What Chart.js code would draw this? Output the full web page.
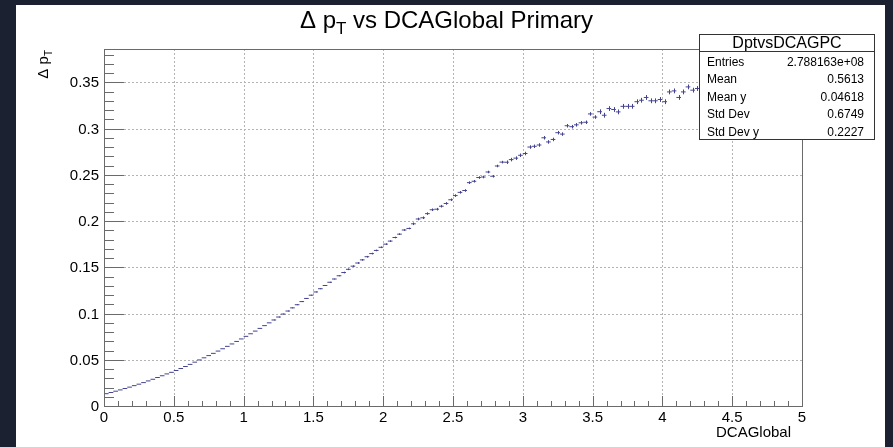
<!DOCTYPE html>
<html>
<head>
<meta charset="utf-8">
<script src="https://cdn.jsdelivr.net/npm/chart.js@4.4.1/dist/chart.umd.min.js"></script>
<style>
  html, body { margin: 0; padding: 0; background: #1b2130; }
</style>
</head>
<body>
<canvas id="myProfile" width="893" height="447"></canvas>
<script>
// histogram binning (TProfile: 150 bins from 0 to 5)
const nBins = 150;
const xLow = 0;
const xHigh = 5;

// mean delta pT per bin (bins past ~4.27 sit under the stats box)
const dpt = [
  0.0133, 0.0146, 0.0160, 0.0174, 0.0189, 0.0204, 0.0220, 0.0236, 0.0253, 0.0271,
  0.0289, 0.0308, 0.0327, 0.0347, 0.0364, 0.0384, 0.0405, 0.0427, 0.0450, 0.0474,
  0.0498, 0.0521, 0.0545, 0.0569, 0.0594, 0.0619, 0.0645, 0.0671, 0.0698, 0.0725,
  0.0753, 0.0781, 0.0810, 0.0839, 0.0869, 0.0899, 0.0930, 0.0962, 0.0994, 0.1027,
  0.1061, 0.1095, 0.1129, 0.1163, 0.1198, 0.1233, 0.1268, 0.1303, 0.1338, 0.1373,
  0.1408, 0.1443, 0.1478, 0.1512, 0.1546, 0.1580, 0.1614, 0.1648, 0.1682, 0.1716,
  0.1750, 0.1783, 0.1822, 0.1858, 0.1903, 0.1920, 0.1970, 0.2022, 0.2035, 0.2080,
  0.2122, 0.2128, 0.2160, 0.2190, 0.2230, 0.2275, 0.2310, 0.2330, 0.2415, 0.2430,
  0.2470, 0.2476, 0.2530, 0.2484, 0.2595, 0.2637, 0.2636, 0.2664, 0.2680, 0.2711,
  0.2730, 0.2800, 0.2808, 0.2822, 0.2900, 0.2855, 0.2882, 0.2955, 0.2940, 0.3030,
  0.3020, 0.3040, 0.3062, 0.3068, 0.3158, 0.3124, 0.3182, 0.3144, 0.3216, 0.3206,
  0.3180, 0.3240, 0.3240, 0.3240, 0.3290, 0.3306, 0.3336, 0.3300, 0.3300, 0.3314,
  0.3290, 0.3396, 0.3407, 0.3336, 0.3396, 0.3450, 0.3415, 0.3433
];

// error on the mean per bin
const dptErr = [
  0, 0, 0, 0, 0, 0, 0, 0, 0, 0,
  0, 0, 0, 0, 0, 0, 0, 0, 0, 0,
  0, 0, 0, 0, 0, 0, 0, 0, 0, 0,
  0, 0, 0, 0, 0, 0, 0.0005, 0.0005, 0.0005, 0.0005,
  0.0005, 0.0005, 0.0005, 0.0005, 0.0005, 0.0005, 0.0005, 0.0005, 0.0005, 0.0005,
  0.0005, 0.0009, 0.0009, 0.0009, 0.0009, 0.0009, 0.0009, 0.0009, 0.0009, 0.0009,
  0.0009, 0.0009, 0.0009, 0.0009, 0.0009, 0.0009, 0.0014, 0.0014, 0.0014, 0.0014,
  0.0014, 0.0014, 0.0014, 0.0014, 0.0014, 0.0014, 0.0014, 0.0014, 0.0014, 0.0014,
  0.0014, 0.0014, 0.0014, 0.0014, 0.0014, 0.0014, 0.0019, 0.0019, 0.0019, 0.0019,
  0.0019, 0.0019, 0.0019, 0.0019, 0.0019, 0.0019, 0.0019, 0.0019, 0.0019, 0.0019,
  0.0019, 0.0019, 0.0019, 0.0019, 0.0019, 0.0019, 0.0026, 0.0026, 0.0026, 0.0026,
  0.0026, 0.0026, 0.0026, 0.0026, 0.0026, 0.0026, 0.0026, 0.0026, 0.0026, 0.0026,
  0.0026, 0.0026, 0.0026, 0.0026, 0.0026, 0.0026, 0.0026, 0.0026
];

const xTicks = [0, 0.5, 1, 1.5, 2, 2.5, 3, 3.5, 4, 4.5, 5];
const xTickLabels = ['0', '0.5', '1', '1.5', '2', '2.5', '3', '3.5', '4', '4.5', '5'];
const yTicks = [0, 0.05, 0.1, 0.15, 0.2, 0.25, 0.3, 0.35];
const yTickLabels = ['0', '0.05', '0.1', '0.15', '0.2', '0.25', '0.3', '0.35'];

const statNames = ['Entries', 'Mean', 'Mean y', 'Std Dev', 'Std Dev y'];
const statValues = ['2.788163e+08', '0.5613', '0.04618', '0.6749', '0.2227'];

const binW = (xHigh - xLow) / nBins;
const points = dpt.map((v, i) => ({ x: xLow + (i + 0.5) * binW, y: v }));

const FONT = '"Liberation Sans", Arial, Helvetica, sans-serif';
const AXIS_COL = '#6a6a6a';
const MARK_COL = '#43438f';

const rootStyle = {
  id: 'rootStyle',
  beforeDraw(chart) {
    const ctx = chart.ctx;
    ctx.save();
    ctx.fillStyle = '#1b2130';
    ctx.fillRect(0, 0, chart.width, chart.height);
    ctx.fillStyle = '#ffffff';
    ctx.fillRect(16, 5, 869, 442);
    ctx.restore();
  },
  beforeDatasetsDraw(chart) {
    // dotted grid at the major ticks
    const { ctx, chartArea: a, scales: { x, y } } = chart;
    ctx.save();
    ctx.strokeStyle = '#b4b4b4';
    ctx.lineWidth = 1;
    ctx.setLineDash([2, 2]);
    xTicks.forEach(t => {
      if (t <= xLow || t >= xHigh) return;
      const px = Math.round(x.getPixelForValue(t)) + 0.5;
      ctx.beginPath(); ctx.moveTo(px, a.top); ctx.lineTo(px, a.bottom); ctx.stroke();
    });
    yTicks.forEach(t => {
      if (t <= 0) return;
      const py = Math.round(y.getPixelForValue(t)) + 0.5;
      ctx.beginPath(); ctx.moveTo(a.left, py); ctx.lineTo(a.right, py); ctx.stroke();
    });
    ctx.restore();
  },
  afterDatasetsDraw(chart) {
    // profile markers: bin-width horizontal bar + vertical error bar
    const { ctx, scales: { x, y } } = chart;
    ctx.save();
    ctx.strokeStyle = MARK_COL;
    ctx.lineWidth = 1;
    points.forEach((p, i) => {
      const x0 = x.getPixelForValue(p.x - binW / 2);
      const x1 = x.getPixelForValue(p.x + binW / 2);
      const xc = x.getPixelForValue(p.x);
      const yc = y.getPixelForValue(p.y);
      ctx.beginPath(); ctx.moveTo(x0, yc); ctx.lineTo(x1, yc); ctx.stroke();
      const e = dptErr[i];
      if (e > 0) {
        ctx.beginPath();
        ctx.moveTo(Math.round(xc) + 0.5, y.getPixelForValue(p.y - e));
        ctx.lineTo(Math.round(xc) + 0.5, y.getPixelForValue(p.y + e));
        ctx.stroke();
      }
    });
    ctx.restore();
  },
  afterDraw(chart) {
    const { ctx, chartArea: a, scales: { x, y } } = chart;
    ctx.save();

    // frame
    ctx.strokeStyle = AXIS_COL;
    ctx.lineWidth = 1;
    ctx.strokeRect(a.left + 0.5, a.top + 0.5, a.right - a.left, a.bottom - a.top);

    // x ticks (inward), minor every 0.1
    for (let k = 0; k <= 50; k++) {
      const v = k / 10;
      const px = Math.round(x.getPixelForValue(v)) + 0.5;
      const len = (k % 5 === 0) ? 10 : 5;
      ctx.beginPath(); ctx.moveTo(px, a.bottom); ctx.lineTo(px, a.bottom - len); ctx.stroke();
    }
    // y ticks (inward), minor every 0.01
    for (let k = 0; k <= 38; k++) {
      const v = k / 100;
      const py = Math.round(y.getPixelForValue(v)) + 0.5;
      const len = (k % 5 === 0) ? 20 : 10;
      ctx.beginPath(); ctx.moveTo(a.left, py); ctx.lineTo(a.left + len, py); ctx.stroke();
    }

    // tick labels
    ctx.fillStyle = '#000';
    ctx.font = '15px ' + FONT;
    ctx.textAlign = 'center';
    ctx.textBaseline = 'alphabetic';
    xTicks.forEach((t, i) => {
      ctx.fillText(xTickLabels[i], x.getPixelForValue(t), a.bottom + 16);
    });
    ctx.textAlign = 'right';
    yTicks.forEach((t, i) => {
      ctx.fillText(yTickLabels[i], a.left - 5, y.getPixelForValue(t) + 5);
    });

    // x axis title
    ctx.textAlign = 'right';
    ctx.fillText('DCAGlobal', 791, 437);

    // y axis title: delta p_T, rotated
    ctx.save();
    ctx.translate(48, 50);
    ctx.rotate(-Math.PI / 2);
    ctx.font = '15px ' + FONT;
    const wMain = ctx.measureText('\u0394 p').width;
    ctx.font = '10px ' + FONT;
    const wSub = ctx.measureText('T').width;
    ctx.textAlign = 'left';
    ctx.font = '15px ' + FONT;
    ctx.fillText('\u0394 p', -(wMain + wSub), 0);
    ctx.font = '10px ' + FONT;
    ctx.fillText('T', -wSub, 4);
    ctx.restore();

    // main title
    ctx.textAlign = 'left';
    ctx.font = '24px ' + FONT;
    const t1 = '\u0394 p', t3 = ' vs DCAGlobal Primary';
    const w1 = ctx.measureText(t1).width, w3 = ctx.measureText(t3).width;
    ctx.font = '17px ' + FONT;
    const w2 = ctx.measureText('T').width;
    let tx = chart.width / 2 - (w1 + w2 + w3) / 2;
    ctx.font = '24px ' + FONT;
    ctx.fillText(t1, tx, 28);
    ctx.font = '17px ' + FONT;
    ctx.fillText('T', tx + w1, 34);
    ctx.font = '24px ' + FONT;
    ctx.fillText(t3, tx + w1 + w2, 28);

    // stats box
    const bx = 699.5, by = 34.5, bw = 175, bh = 105;
    ctx.fillStyle = '#fff';
    ctx.fillRect(bx, by, bw, bh);
    ctx.strokeStyle = '#333';
    ctx.strokeRect(bx, by, bw, bh);
    ctx.beginPath(); ctx.moveTo(bx, 51.5); ctx.lineTo(bx + bw, 51.5); ctx.stroke();
    ctx.fillStyle = '#000';
    ctx.font = '16px ' + FONT;
    ctx.textAlign = 'center';
    ctx.fillText('DptvsDCAGPC', bx + bw / 2, 48);
    ctx.font = '12px ' + FONT;
    statNames.forEach((n, i) => {
      const yy = 66 + i * 17.4;
      ctx.textAlign = 'left';
      ctx.fillText(n, 707, yy);
      ctx.textAlign = 'right';
      ctx.fillText(statValues[i], 864, yy);
    });

    ctx.restore();
  }
};

const config = {
  type: 'scatter',
  data: {
    datasets: [{
      label: 'DptvsDCAGPC',
      data: points,
      pointRadius: 0,
      showLine: false
    }]
  },
  options: {
    responsive: false,
    animation: false,
    layout: { padding: { left: 104, right: 91, top: 49, bottom: 41 } },
    scales: {
      x: { type: 'linear', min: xLow, max: xHigh, display: false },
      y: { type: 'linear', min: 0, max: 0.386, display: false }
    },
    plugins: {
      legend: { display: false },
      tooltip: { enabled: false }
    }
  },
  plugins: [rootStyle]
};

var myProfile = new Chart(document.getElementById('myProfile'), config);
</script>
</body>
</html>
